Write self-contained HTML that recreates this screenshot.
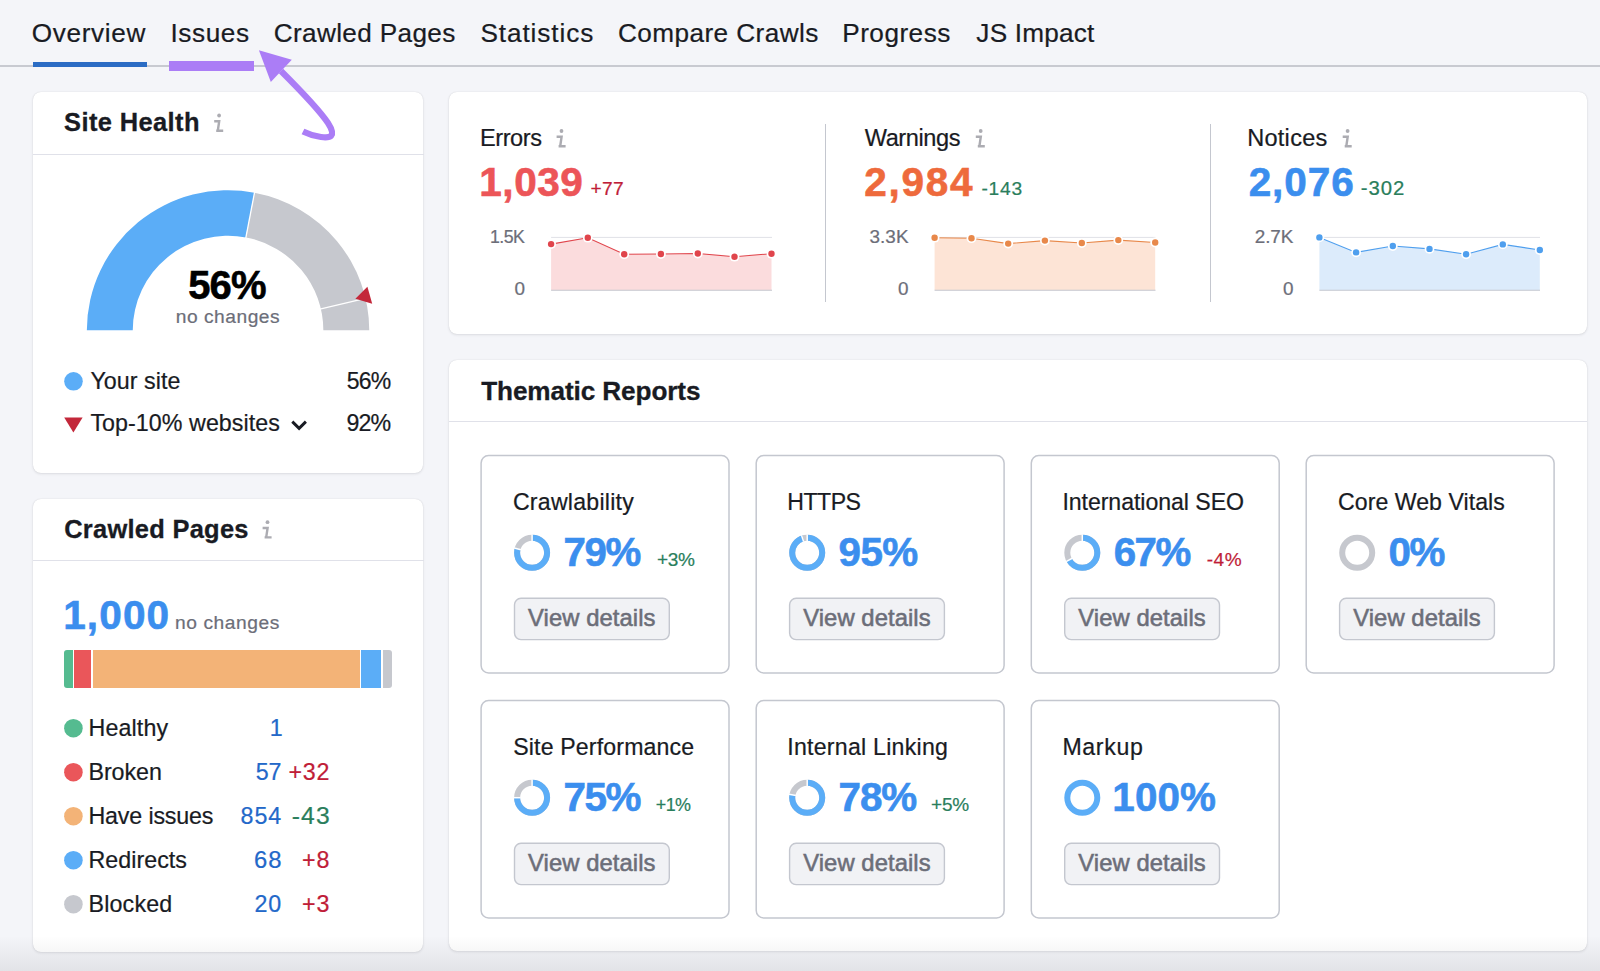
<!DOCTYPE html><html lang="en"><head><meta charset="utf-8"><title>Site Audit</title><style>
*{margin:0;padding:0;box-sizing:border-box}
html,body{width:1600px;height:971px;overflow:hidden;background:#f4f5f9;font-family:"Liberation Sans",sans-serif}
#root{position:relative;width:1600px;height:971px;overflow:hidden;background:#f4f5f9}
.abs,.card{position:absolute}
.card{background:#fff;border-radius:8px;box-shadow:0 0 1px rgba(25,27,35,.16),0 1px 3px rgba(25,27,35,.10)}
.hr{position:absolute;height:1px;background:#e0e1e9}
svg{position:absolute;left:0;top:0;overflow:visible}
</style></head><body><div id="root">
<div class="abs" style="left:0;top:65.3px;width:1600px;height:1.5px;background:#c8cad1"></div>
<div class="abs" style="left:32.5px;top:61.8px;width:114.3px;height:4.8px;background:#2b6cc4"></div>
<div class="card" style="left:32.5px;top:92px;width:390.7px;height:380.5px"></div>
<div class="hr" style="left:32.5px;top:154px;width:391px"></div>
<div class="card" style="left:32.5px;top:498.5px;width:390.7px;height:453px"></div>
<div class="hr" style="left:32.5px;top:560.3px;width:391px"></div>
<div class="card" style="left:448.5px;top:92px;width:1138px;height:242.3px"></div>
<div class="abs" style="left:825px;top:124px;width:1.3px;height:177.5px;background:#c4c7cf"></div>
<div class="abs" style="left:1209.5px;top:124px;width:1.3px;height:177.5px;background:#c4c7cf"></div>
<div class="card" style="left:448.5px;top:359.5px;width:1138px;height:591.5px"></div>
<div class="hr" style="left:448.5px;top:421px;width:1138px"></div>
<div class="abs" style="left:64.3px;top:650px;width:327.5px;height:37.5px;border-radius:3px;overflow:hidden;background:#fff">
<div class="abs" style="left:0.0px;top:0;width:8.3px;height:37.5px;background:#55bb90"></div>
<div class="abs" style="left:10.0px;top:0;width:17.2px;height:37.5px;background:#ea565a"></div>
<div class="abs" style="left:28.7px;top:0;width:266.6px;height:37.5px;background:#f3b377"></div>
<div class="abs" style="left:297.0px;top:0;width:20.1px;height:37.5px;background:#5badf7"></div>
<div class="abs" style="left:318.7px;top:0;width:8.8px;height:37.5px;background:#c6c8ce"></div>
</div>
<svg width="1600" height="971" viewBox="0 0 1600 971"><rect x="481.1" y="455.6" width="247.9" height="217.4" rx="7.5" fill="#fff" stroke="#c4c7cf" stroke-width="1.5"/><rect x="514.5" y="598.3" width="154.8" height="41.3" rx="6.5" fill="#f1f2f5" stroke="#c4c7cf" stroke-width="1.4"/><rect x="756.2" y="455.6" width="247.9" height="217.4" rx="7.5" fill="#fff" stroke="#c4c7cf" stroke-width="1.5"/><rect x="789.6" y="598.3" width="154.8" height="41.3" rx="6.5" fill="#f1f2f5" stroke="#c4c7cf" stroke-width="1.4"/><rect x="1031.3" y="455.6" width="247.9" height="217.4" rx="7.5" fill="#fff" stroke="#c4c7cf" stroke-width="1.5"/><rect x="1064.7" y="598.3" width="154.8" height="41.3" rx="6.5" fill="#f1f2f5" stroke="#c4c7cf" stroke-width="1.4"/><rect x="1306.2" y="455.6" width="247.9" height="217.4" rx="7.5" fill="#fff" stroke="#c4c7cf" stroke-width="1.5"/><rect x="1339.6" y="598.3" width="154.8" height="41.3" rx="6.5" fill="#f1f2f5" stroke="#c4c7cf" stroke-width="1.4"/><rect x="481.1" y="700.6" width="247.9" height="217.4" rx="7.5" fill="#fff" stroke="#c4c7cf" stroke-width="1.5"/><rect x="514.5" y="843.3" width="154.8" height="41.3" rx="6.5" fill="#f1f2f5" stroke="#c4c7cf" stroke-width="1.4"/><rect x="756.2" y="700.6" width="247.9" height="217.4" rx="7.5" fill="#fff" stroke="#c4c7cf" stroke-width="1.5"/><rect x="789.6" y="843.3" width="154.8" height="41.3" rx="6.5" fill="#f1f2f5" stroke="#c4c7cf" stroke-width="1.4"/><rect x="1031.3" y="700.6" width="247.9" height="217.4" rx="7.5" fill="#fff" stroke="#c4c7cf" stroke-width="1.5"/><rect x="1064.7" y="843.3" width="154.8" height="41.3" rx="6.5" fill="#f1f2f5" stroke="#c4c7cf" stroke-width="1.4"/><path d="M86.85,330.30 A141.2,140.14 0 0 1 254.51,192.64 L245.91,237.39 A95.3,94.59 0 0 0 132.75,330.30 Z" fill="#5badf7"/><path d="M254.51,192.64 A141.2,140.14 0 0 1 369.25,330.30 L323.35,330.30 A95.3,94.59 0 0 0 245.91,237.39 Z" fill="#c6c8ce"/><line x1="245.72" y1="238.37" x2="254.70" y2="191.67" stroke="#fff" stroke-width="1.3"/><line x1="319.88" y1="309.02" x2="366.53" y2="298.22" stroke="#fff" stroke-width="1.3"/><path d="M355.4,298.7 L367.4,286.8 L372.2,303.7 Z" fill="#c3283a"/><circle cx="73.5" cy="381.3" r="9.3" fill="#5badf7"/><path d="M64.2,417.6 H82.6 L73.4,432.6 Z" fill="#c3283a"/><path d="M292.3,421.6 L299.1,428.4 L305.9,421.6" fill="none" stroke="#191b23" stroke-width="2.9"/><circle cx="73.4" cy="728.2" r="9.3" fill="#55bb90"/><circle cx="73.4" cy="772.2" r="9.3" fill="#ea565a"/><circle cx="73.4" cy="816.2" r="9.3" fill="#f3b377"/><circle cx="73.4" cy="860.2" r="9.3" fill="#5badf7"/><circle cx="73.4" cy="904.2" r="9.3" fill="#c6c8ce"/><g transform="translate(214,113.3)" fill="none" stroke="#acacb2" stroke-width="2.4"><circle cx="5.1" cy="2.2" r="1.9" fill="#acacb2" stroke="none"/><path d="M0.2 8 H5.2 L3.8 17.4 M2.2 17.4 H9.2"/></g><g transform="translate(262.4,520)" fill="none" stroke="#acacb2" stroke-width="2.4"><circle cx="5.1" cy="2.2" r="1.9" fill="#acacb2" stroke="none"/><path d="M0.2 8 H5.2 L3.8 17.4 M2.2 17.4 H9.2"/></g><g transform="translate(556.4,128.8)" fill="none" stroke="#acacb2" stroke-width="2.4"><circle cx="5.1" cy="2.2" r="1.9" fill="#acacb2" stroke="none"/><path d="M0.2 8 H5.2 L3.8 17.4 M2.2 17.4 H9.2"/></g><g transform="translate(975.6,128.8)" fill="none" stroke="#acacb2" stroke-width="2.4"><circle cx="5.1" cy="2.2" r="1.9" fill="#acacb2" stroke="none"/><path d="M0.2 8 H5.2 L3.8 17.4 M2.2 17.4 H9.2"/></g><g transform="translate(1342.5,128.8)" fill="none" stroke="#acacb2" stroke-width="2.4"><circle cx="5.1" cy="2.2" r="1.9" fill="#acacb2" stroke="none"/><path d="M0.2 8 H5.2 L3.8 17.4 M2.2 17.4 H9.2"/></g><line x1="551.1" y1="237.4" x2="772" y2="237.4" stroke="#e0e1e7" stroke-width="1"/><path d="M551.1,290.2 L551.1,244.1 L587.8,237.7 L624.2,254.3 L660.9,254.0 L697.8,253.5 L734.5,256.7 L771.5,253.7 L771.5,290.2 Z" fill="#fbdcdd"/><line x1="551.1" y1="290.2" x2="772" y2="290.2" stroke="#c4c7cf" stroke-width="1.1"/><polyline points="551.1,244.1 587.8,237.7 624.2,254.3 660.9,254.0 697.8,253.5 734.5,256.7 771.5,253.7" fill="none" stroke="#e0454c" stroke-width="1.1"/><circle cx="551.1" cy="244.1" r="4.9" fill="#fff"/><circle cx="551.1" cy="244.1" r="3.2" fill="#e0454c"/><circle cx="587.8" cy="237.7" r="4.9" fill="#fff"/><circle cx="587.8" cy="237.7" r="3.2" fill="#e0454c"/><circle cx="624.2" cy="254.3" r="4.9" fill="#fff"/><circle cx="624.2" cy="254.3" r="3.2" fill="#e0454c"/><circle cx="660.9" cy="254.0" r="4.9" fill="#fff"/><circle cx="660.9" cy="254.0" r="3.2" fill="#e0454c"/><circle cx="697.8" cy="253.5" r="4.9" fill="#fff"/><circle cx="697.8" cy="253.5" r="3.2" fill="#e0454c"/><circle cx="734.5" cy="256.7" r="4.9" fill="#fff"/><circle cx="734.5" cy="256.7" r="3.2" fill="#e0454c"/><circle cx="771.5" cy="253.7" r="4.9" fill="#fff"/><circle cx="771.5" cy="253.7" r="3.2" fill="#e0454c"/><line x1="934.6" y1="237.4" x2="1155.5" y2="237.4" stroke="#e0e1e7" stroke-width="1"/><path d="M934.6,290.2 L934.6,237.7 L971.5,238.2 L1008.2,243.6 L1044.9,240.6 L1081.8,243.0 L1118.3,240.1 L1155.2,242.5 L1155.2,290.2 Z" fill="#fde4d6"/><line x1="934.6" y1="290.2" x2="1155.5" y2="290.2" stroke="#c4c7cf" stroke-width="1.1"/><polyline points="934.6,237.7 971.5,238.2 1008.2,243.6 1044.9,240.6 1081.8,243.0 1118.3,240.1 1155.2,242.5" fill="none" stroke="#e8884a" stroke-width="1.1"/><circle cx="934.6" cy="237.7" r="4.9" fill="#fff"/><circle cx="934.6" cy="237.7" r="3.2" fill="#e8884a"/><circle cx="971.5" cy="238.2" r="4.9" fill="#fff"/><circle cx="971.5" cy="238.2" r="3.2" fill="#e8884a"/><circle cx="1008.2" cy="243.6" r="4.9" fill="#fff"/><circle cx="1008.2" cy="243.6" r="3.2" fill="#e8884a"/><circle cx="1044.9" cy="240.6" r="4.9" fill="#fff"/><circle cx="1044.9" cy="240.6" r="3.2" fill="#e8884a"/><circle cx="1081.8" cy="243.0" r="4.9" fill="#fff"/><circle cx="1081.8" cy="243.0" r="3.2" fill="#e8884a"/><circle cx="1118.3" cy="240.1" r="4.9" fill="#fff"/><circle cx="1118.3" cy="240.1" r="3.2" fill="#e8884a"/><circle cx="1155.2" cy="242.5" r="4.9" fill="#fff"/><circle cx="1155.2" cy="242.5" r="3.2" fill="#e8884a"/><line x1="1319.4" y1="237.4" x2="1540" y2="237.4" stroke="#e0e1e7" stroke-width="1"/><path d="M1319.4,290.2 L1319.4,237.4 L1356.1,252.4 L1392.8,246.0 L1429.5,248.9 L1466.1,254.3 L1502.8,244.4 L1539.8,250.0 L1539.8,290.2 Z" fill="#dcebfb"/><line x1="1319.4" y1="290.2" x2="1540" y2="290.2" stroke="#c4c7cf" stroke-width="1.1"/><polyline points="1319.4,237.4 1356.1,252.4 1392.8,246.0 1429.5,248.9 1466.1,254.3 1502.8,244.4 1539.8,250.0" fill="none" stroke="#4f9fee" stroke-width="1.1"/><circle cx="1319.4" cy="237.4" r="4.9" fill="#fff"/><circle cx="1319.4" cy="237.4" r="3.2" fill="#4f9fee"/><circle cx="1356.1" cy="252.4" r="4.9" fill="#fff"/><circle cx="1356.1" cy="252.4" r="3.2" fill="#4f9fee"/><circle cx="1392.8" cy="246.0" r="4.9" fill="#fff"/><circle cx="1392.8" cy="246.0" r="3.2" fill="#4f9fee"/><circle cx="1429.5" cy="248.9" r="4.9" fill="#fff"/><circle cx="1429.5" cy="248.9" r="3.2" fill="#4f9fee"/><circle cx="1466.1" cy="254.3" r="4.9" fill="#fff"/><circle cx="1466.1" cy="254.3" r="3.2" fill="#4f9fee"/><circle cx="1502.8" cy="244.4" r="4.9" fill="#fff"/><circle cx="1502.8" cy="244.4" r="3.2" fill="#4f9fee"/><circle cx="1539.8" cy="250.0" r="4.9" fill="#fff"/><circle cx="1539.8" cy="250.0" r="3.2" fill="#4f9fee"/><circle cx="532.1" cy="552.7" r="15.0" fill="none" stroke="#c6c8ce" stroke-width="6.0"/><circle cx="532.1" cy="552.7" r="15.0" fill="none" stroke="#5badf7" stroke-width="6.0" stroke-dasharray="74.46 19.79" transform="rotate(-90 532.1 552.7)"/><line x1="532.10" y1="541.20" x2="532.10" y2="534.20" stroke="#fff" stroke-width="1.5"/><line x1="520.96" y1="549.84" x2="514.18" y2="548.10" stroke="#fff" stroke-width="1.5"/><circle cx="807.2" cy="552.7" r="15.0" fill="none" stroke="#c6c8ce" stroke-width="6.0"/><circle cx="807.2" cy="552.7" r="15.0" fill="none" stroke="#5badf7" stroke-width="6.0" stroke-dasharray="89.54 4.71" transform="rotate(-90 807.2 552.7)"/><line x1="807.20" y1="541.20" x2="807.20" y2="534.20" stroke="#fff" stroke-width="1.5"/><line x1="803.65" y1="541.76" x2="801.48" y2="535.11" stroke="#fff" stroke-width="1.5"/><circle cx="1082.3" cy="552.7" r="15.0" fill="none" stroke="#c6c8ce" stroke-width="6.0"/><circle cx="1082.3" cy="552.7" r="15.0" fill="none" stroke="#5badf7" stroke-width="6.0" stroke-dasharray="63.15 31.10" transform="rotate(-90 1082.3 552.7)"/><line x1="1082.30" y1="541.20" x2="1082.30" y2="534.20" stroke="#fff" stroke-width="1.5"/><line x1="1072.22" y1="558.24" x2="1066.09" y2="561.61" stroke="#fff" stroke-width="1.5"/><circle cx="1357.2" cy="552.7" r="15.0" fill="none" stroke="#c6c8ce" stroke-width="6.0"/><circle cx="532.1" cy="797.7" r="15.0" fill="none" stroke="#c6c8ce" stroke-width="6.0"/><circle cx="532.1" cy="797.7" r="15.0" fill="none" stroke="#5badf7" stroke-width="6.0" stroke-dasharray="70.69 23.56" transform="rotate(-90 532.1 797.7)"/><line x1="532.10" y1="786.20" x2="532.10" y2="779.20" stroke="#fff" stroke-width="1.5"/><line x1="520.60" y1="797.70" x2="513.60" y2="797.70" stroke="#fff" stroke-width="1.5"/><circle cx="807.2" cy="797.7" r="15.0" fill="none" stroke="#c6c8ce" stroke-width="6.0"/><circle cx="807.2" cy="797.7" r="15.0" fill="none" stroke="#5badf7" stroke-width="6.0" stroke-dasharray="73.51 20.73" transform="rotate(-90 807.2 797.7)"/><line x1="807.20" y1="786.20" x2="807.20" y2="779.20" stroke="#fff" stroke-width="1.5"/><line x1="795.90" y1="795.55" x2="789.03" y2="794.23" stroke="#fff" stroke-width="1.5"/><circle cx="1082.3" cy="797.7" r="15.0" fill="none" stroke="#5badf7" stroke-width="6.0"/></svg>
<svg width="1600" height="971" viewBox="0 0 1600 971" style="font-family:'Liberation Sans',sans-serif">
<text x="31.77" y="42" font-size="26.16" font-weight="400" fill="#191b23" letter-spacing="0.662" stroke="#191b23" stroke-width="0.22">Overview</text>
<text x="170.46" y="42" font-size="26.16" font-weight="400" fill="#191b23" letter-spacing="0.601" stroke="#191b23" stroke-width="0.22">Issues</text>
<text x="273.77" y="42" font-size="26.16" font-weight="400" fill="#191b23" letter-spacing="0.346" stroke="#191b23" stroke-width="0.22">Crawled Pages</text>
<text x="480.43" y="42" font-size="26.16" font-weight="400" fill="#191b23" letter-spacing="0.913" stroke="#191b23" stroke-width="0.22">Statistics</text>
<text x="618.02" y="42" font-size="26.16" font-weight="400" fill="#191b23" letter-spacing="0.423" stroke="#191b23" stroke-width="0.22">Compare Crawls</text>
<text x="842.21" y="42" font-size="26.16" font-weight="400" fill="#191b23" letter-spacing="0.490" stroke="#191b23" stroke-width="0.22">Progress</text>
<text x="976.34" y="42" font-size="26.16" font-weight="400" fill="#191b23" letter-spacing="0.221" stroke="#191b23" stroke-width="0.22">JS Impact</text>
<text x="64.10" y="131" font-size="25.44" font-weight="700" fill="#191b23" letter-spacing="0.390" stroke="#191b23" stroke-width="0.3">Site Health</text>
<text x="188.28" y="299" font-size="39.97" font-weight="700" fill="#000" letter-spacing="-0.904" stroke="#000" stroke-width="0.6">56%</text>
<text x="175.80" y="323" font-size="19.19" font-weight="400" fill="#6c6e79" letter-spacing="0.508" stroke="#6c6e79" stroke-width="0.22">no changes</text>
<text x="90.39" y="389" font-size="23.26" font-weight="400" fill="#191b23" letter-spacing="0.050" stroke="#191b23" stroke-width="0.22">Your site</text>
<text x="346.78" y="389" font-size="23.0" font-weight="400" fill="#191b23" letter-spacing="-0.815" stroke="#191b23" stroke-width="0.22">56%</text>
<text x="90.39" y="431" font-size="23.26" font-weight="400" fill="#191b23" letter-spacing="0.055" stroke="#191b23" stroke-width="0.22">Top-10% websites</text>
<text x="346.41" y="431" font-size="23.19" font-weight="400" fill="#191b23" letter-spacing="-0.818" stroke="#191b23" stroke-width="0.22">92%</text>
<text x="64.20" y="538" font-size="25.44" font-weight="700" fill="#191b23" letter-spacing="0.278" stroke="#191b23" stroke-width="0.3">Crawled Pages</text>
<text x="63.17" y="629" font-size="40.55" font-weight="700" fill="#3b8eee" letter-spacing="1.126" stroke="#3b8eee" stroke-width="0.6">1,000</text>
<text x="175.05" y="629" font-size="19.19" font-weight="400" fill="#6c6e79" letter-spacing="0.563" stroke="#6c6e79" stroke-width="0.22">no changes</text>
<text x="88.48" y="736" font-size="23.26" font-weight="400" fill="#191b23" letter-spacing="0.142" stroke="#191b23" stroke-width="0.22">Healthy</text>
<text x="269.73" y="736" font-size="23.26" font-weight="400" fill="#2368c9" letter-spacing="0.000" stroke="#2368c9" stroke-width="0.22">1</text>
<text x="88.48" y="780" font-size="23.26" font-weight="400" fill="#191b23" letter-spacing="-0.055" stroke="#191b23" stroke-width="0.22">Broken</text>
<text x="255.87" y="780" font-size="23.26" font-weight="400" fill="#2368c9" letter-spacing="-0.203" stroke="#2368c9" stroke-width="0.22">57</text>
<text x="288.51" y="780" font-size="23.26" font-weight="400" fill="#c01d38" letter-spacing="0.789" stroke="#c01d38" stroke-width="0.22">+32</text>
<text x="88.48" y="824" font-size="23.26" font-weight="400" fill="#191b23" letter-spacing="-0.165" stroke="#191b23" stroke-width="0.22">Have issues</text>
<text x="240.57" y="824" font-size="23.26" font-weight="400" fill="#2368c9" letter-spacing="0.899" stroke="#2368c9" stroke-width="0.22">854</text>
<text x="291.63" y="824" font-size="24.66" font-weight="400" fill="#2a7e5c" letter-spacing="1.164" stroke="#2a7e5c" stroke-width="0.22">-43</text>
<text x="88.48" y="868" font-size="23.26" font-weight="400" fill="#191b23" letter-spacing="0.038" stroke="#191b23" stroke-width="0.22">Redirects</text>
<text x="253.88" y="868" font-size="23.84" font-weight="400" fill="#2368c9" letter-spacing="1.166" stroke="#2368c9" stroke-width="0.22">68</text>
<text x="301.91" y="868" font-size="23.26" font-weight="400" fill="#c01d38" letter-spacing="1.113" stroke="#c01d38" stroke-width="0.22">+8</text>
<text x="88.48" y="912" font-size="23.26" font-weight="400" fill="#191b23" letter-spacing="0.179" stroke="#191b23" stroke-width="0.22">Blocked</text>
<text x="254.41" y="912" font-size="23.26" font-weight="400" fill="#2368c9" letter-spacing="0.897" stroke="#2368c9" stroke-width="0.22">20</text>
<text x="301.91" y="912" font-size="23.26" font-weight="400" fill="#c01d38" letter-spacing="1.113" stroke="#c01d38" stroke-width="0.22">+3</text>
<text x="479.96" y="146" font-size="23.55" font-weight="400" fill="#191b23" letter-spacing="-0.426" stroke="#191b23" stroke-width="0.22">Errors</text>
<text x="479.27" y="196" font-size="40.55" font-weight="700" fill="#ec5558" letter-spacing="0.543" stroke="#ec5558" stroke-width="0.6">1,039</text>
<text x="590.40" y="195" font-size="19.19" font-weight="400" fill="#c01d38" letter-spacing="0.363" stroke="#c01d38" stroke-width="0.22">+77</text>
<text x="490.09" y="243" font-size="17.78" font-weight="400" fill="#6c6e79" letter-spacing="-0.625" stroke="#6c6e79" stroke-width="0.22">1.5K</text>
<text x="514.43" y="295" font-size="18.9" font-weight="400" fill="#6c6e79" letter-spacing="0.000" stroke="#6c6e79" stroke-width="0.22">0</text>
<text x="864.70" y="146" font-size="23.55" font-weight="400" fill="#191b23" letter-spacing="-0.394" stroke="#191b23" stroke-width="0.22">Warnings</text>
<text x="864.23" y="196" font-size="40.55" font-weight="700" fill="#ee6a3c" letter-spacing="1.734" stroke="#ee6a3c" stroke-width="0.6">2,984</text>
<text x="981.40" y="195" font-size="19.19" font-weight="400" fill="#2a7e5c" letter-spacing="0.756" stroke="#2a7e5c" stroke-width="0.22">-143</text>
<text x="869.41" y="243" font-size="18.9" font-weight="400" fill="#6c6e79" letter-spacing="0.105" stroke="#6c6e79" stroke-width="0.22">3.3K</text>
<text x="898.08" y="295" font-size="18.9" font-weight="400" fill="#6c6e79" letter-spacing="0.000" stroke="#6c6e79" stroke-width="0.22">0</text>
<text x="1247.16" y="146" font-size="23.55" font-weight="400" fill="#191b23" letter-spacing="0.275" stroke="#191b23" stroke-width="0.22">Notices</text>
<text x="1248.63" y="196" font-size="40.55" font-weight="700" fill="#3b8eee" letter-spacing="0.926" stroke="#3b8eee" stroke-width="0.6">2,076</text>
<text x="1360.76" y="195" font-size="20.33" font-weight="400" fill="#2a7e5c" letter-spacing="0.956" stroke="#2a7e5c" stroke-width="0.22">-302</text>
<text x="1254.81" y="243" font-size="18.9" font-weight="400" fill="#6c6e79" letter-spacing="-0.097" stroke="#6c6e79" stroke-width="0.22">2.7K</text>
<text x="1282.93" y="295" font-size="18.9" font-weight="400" fill="#6c6e79" letter-spacing="0.000" stroke="#6c6e79" stroke-width="0.22">0</text>
<text x="481.20" y="400" font-size="26.16" font-weight="700" fill="#191b23" letter-spacing="-0.106" stroke="#191b23" stroke-width="0.3">Thematic Reports</text>
<text x="512.92" y="510" font-size="23.11" font-weight="400" fill="#191b23" letter-spacing="0.249" stroke="#191b23" stroke-width="0.22">Crawlability</text>
<text x="563.44" y="566" font-size="40.25" font-weight="700" fill="#3b8eee" letter-spacing="-1.416" stroke="#3b8eee" stroke-width="0.6">79%</text>
<text x="656.91" y="566" font-size="19.04" font-weight="400" fill="#2a7e5c" letter-spacing="-0.289" stroke="#2a7e5c" stroke-width="0.22">+3%</text>
<text x="528.10" y="626" font-size="23.84" font-weight="400" fill="#6c6e79" letter-spacing="0.061" stroke="#6c6e79" stroke-width="0.55">View details</text>
<text x="787.29" y="510" font-size="23.11" font-weight="400" fill="#191b23" letter-spacing="-0.519" stroke="#191b23" stroke-width="0.22">HTTPS</text>
<text x="838.54" y="566" font-size="40.41" font-weight="700" fill="#3b8eee" letter-spacing="-0.572" stroke="#3b8eee" stroke-width="0.6">95%</text>
<text x="803.20" y="626" font-size="23.84" font-weight="400" fill="#6c6e79" letter-spacing="0.061" stroke="#6c6e79" stroke-width="0.55">View details</text>
<text x="1062.39" y="510" font-size="23.11" font-weight="400" fill="#191b23" letter-spacing="-0.051" stroke="#191b23" stroke-width="0.22">International SEO</text>
<text x="1113.64" y="566" font-size="40.25" font-weight="700" fill="#3b8eee" letter-spacing="-1.416" stroke="#3b8eee" stroke-width="0.6">67%</text>
<text x="1206.70" y="566" font-size="19.04" font-weight="400" fill="#c01d38" letter-spacing="0.551" stroke="#c01d38" stroke-width="0.22">-4%</text>
<text x="1078.30" y="626" font-size="23.84" font-weight="400" fill="#6c6e79" letter-spacing="0.061" stroke="#6c6e79" stroke-width="0.55">View details</text>
<text x="1338.02" y="510" font-size="23.11" font-weight="400" fill="#191b23" letter-spacing="0.049" stroke="#191b23" stroke-width="0.22">Core Web Vitals</text>
<text x="1388.54" y="566" font-size="40.37" font-weight="700" fill="#3b8eee" letter-spacing="-1.414" stroke="#3b8eee" stroke-width="0.6">0%</text>
<text x="1353.20" y="626" font-size="23.84" font-weight="400" fill="#6c6e79" letter-spacing="0.061" stroke="#6c6e79" stroke-width="0.55">View details</text>
<text x="513.28" y="755" font-size="23.11" font-weight="400" fill="#191b23" letter-spacing="0.155" stroke="#191b23" stroke-width="0.22">Site Performance</text>
<text x="563.44" y="811" font-size="40.41" font-weight="700" fill="#3b8eee" letter-spacing="-1.422" stroke="#3b8eee" stroke-width="0.6">75%</text>
<text x="655.86" y="811" font-size="17.95" font-weight="400" fill="#2a7e5c" letter-spacing="-0.625" stroke="#2a7e5c" stroke-width="0.22">+1%</text>
<text x="528.10" y="871" font-size="23.84" font-weight="400" fill="#6c6e79" letter-spacing="0.061" stroke="#6c6e79" stroke-width="0.55">View details</text>
<text x="787.29" y="755" font-size="23.11" font-weight="400" fill="#191b23" letter-spacing="0.258" stroke="#191b23" stroke-width="0.22">Internal Linking</text>
<text x="838.54" y="811" font-size="40.41" font-weight="700" fill="#3b8eee" letter-spacing="-1.072" stroke="#3b8eee" stroke-width="0.6">78%</text>
<text x="931.11" y="811" font-size="19.04" font-weight="400" fill="#2a7e5c" letter-spacing="-0.239" stroke="#2a7e5c" stroke-width="0.22">+5%</text>
<text x="803.20" y="871" font-size="23.84" font-weight="400" fill="#6c6e79" letter-spacing="0.061" stroke="#6c6e79" stroke-width="0.55">View details</text>
<text x="1062.39" y="755" font-size="23.11" font-weight="400" fill="#191b23" letter-spacing="0.676" stroke="#191b23" stroke-width="0.22">Markup</text>
<text x="1112.37" y="811" font-size="40.41" font-weight="700" fill="#3b8eee" letter-spacing="0.082" stroke="#3b8eee" stroke-width="0.6">100%</text>
<text x="1078.30" y="871" font-size="23.84" font-weight="400" fill="#6c6e79" letter-spacing="0.061" stroke="#6c6e79" stroke-width="0.55">View details</text>
</svg>
<div class="abs" style="left:168.7px;top:61.3px;width:85.5px;height:9.3px;background:#ab7df6"></div>
<svg width="1600" height="971" viewBox="0 0 1600 971"><path d="M258.9,50.2 L291.8,59.8 L270.8,81.9 Z" fill="#ab7df6"/><path d="M281,71 C300,90 318,108 328,123 C337,137 330,138.2 321,137 C314,136 308,134 303,131.5" fill="none" stroke="#ab7df6" stroke-width="6.2"/></svg>
<div class="abs" style="left:0;top:936px;width:1600px;height:35px;background:linear-gradient(to bottom,rgba(35,36,42,0),rgba(35,36,42,.085))"></div>
</div></body></html>
